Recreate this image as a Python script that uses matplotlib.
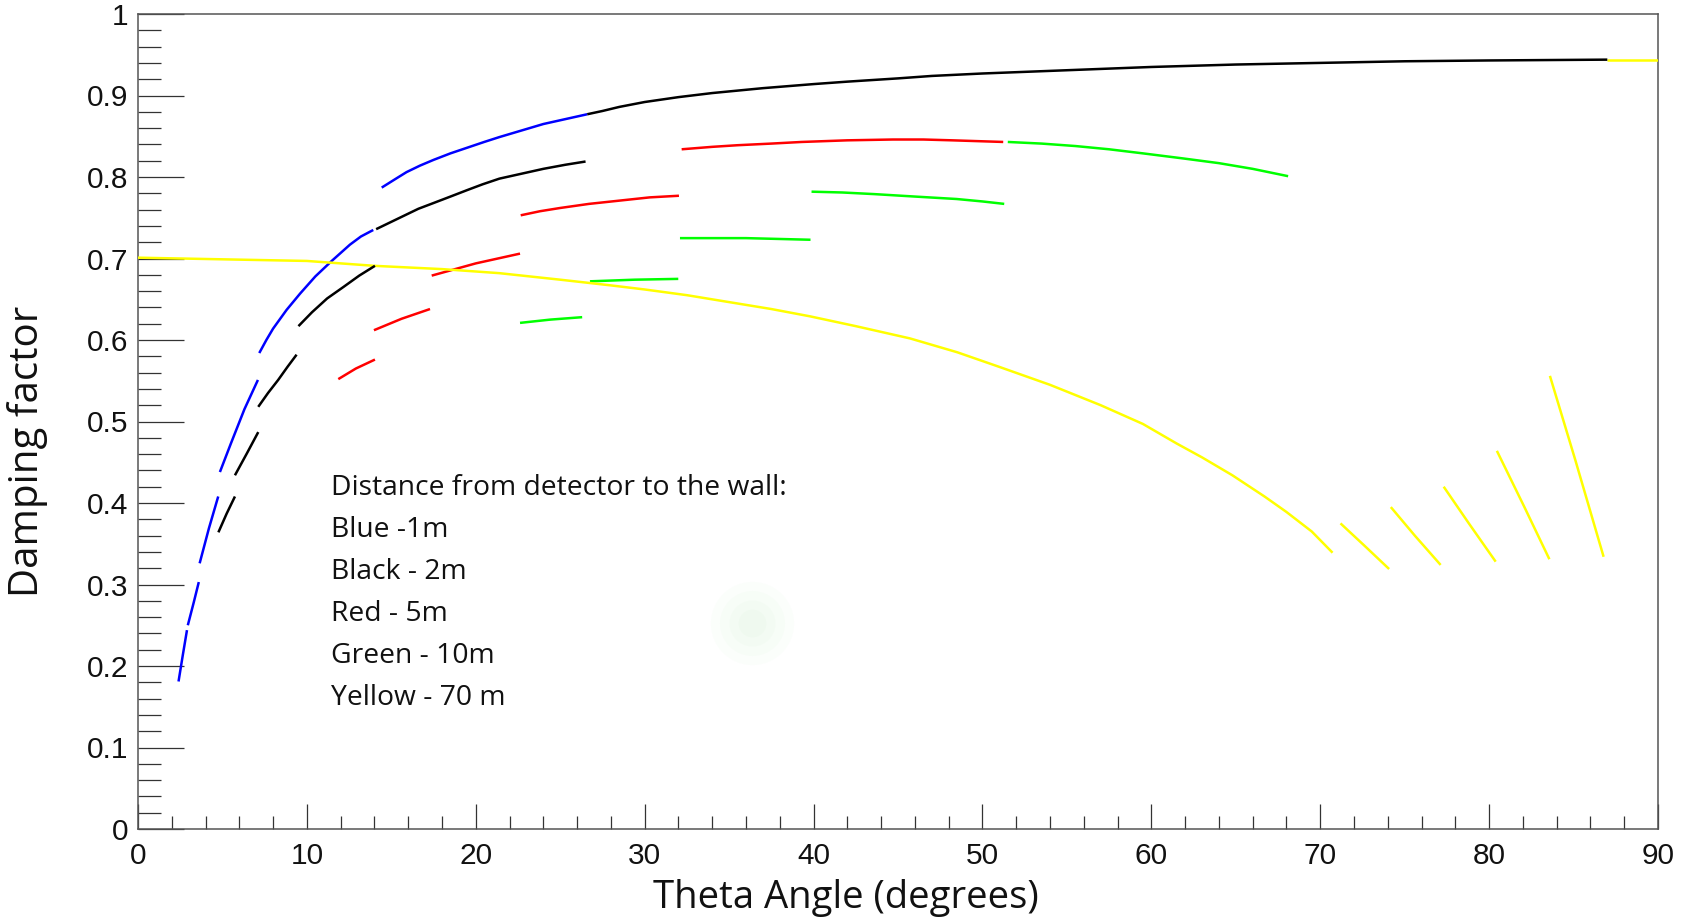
import matplotlib
matplotlib.use("Agg")
import matplotlib.pyplot as plt
from matplotlib.ticker import MultipleLocator

# ---------------- data ----------------
# Each colour: list of segments, x in degrees, y damping factor
blue_x = [
    [2.4, 2.65, 2.9],
    [2.95, 3.3, 3.6],
    [3.65, 4.2, 4.75],
    [4.85, 5.5, 6.3, 7.1],
    [7.18, 7.6, 8.0, 8.8, 9.6, 10.5, 11.47, 12.55, 13.2, 13.93],
    [14.43, 15.2, 15.9, 16.7, 17.5, 18.5, 19.5, 20.5, 21.4, 22.7, 24.0, 25.3, 26.6],
]
blue_y = [
    [0.181, 0.213, 0.244],
    [0.250, 0.278, 0.303],
    [0.326, 0.369, 0.408],
    [0.438, 0.473, 0.515, 0.551],
    [0.584, 0.600, 0.614, 0.637, 0.657, 0.678, 0.697, 0.717, 0.727, 0.735],
    [0.787, 0.797, 0.806, 0.814, 0.821, 0.829, 0.836, 0.843, 0.849, 0.857, 0.865, 0.871, 0.877],
]

black_x = [
    [4.76, 5.25, 5.74],
    [5.74, 6.45, 7.12],
    [7.12, 7.7, 8.3, 8.85, 9.39],
    [9.5, 10.3, 11.2, 12.16, 13.1, 14.03],
    [14.1, 15.0, 15.8, 16.6, 17.49, 18.5, 19.5, 20.4, 21.4, 22.7, 24.0, 25.3, 26.5],
    [26.6, 27.5, 28.5, 30.0, 32.0, 34.0, 37.0, 40.0, 42.0, 45.0, 47.0, 50.0,
     55.0, 60.0, 65.0, 70.0, 75.0, 80.0, 87.0],
]
black_y = [
    [0.364, 0.387, 0.408],
    [0.434, 0.461, 0.487],
    [0.518, 0.535, 0.551, 0.567, 0.582],
    [0.617, 0.634, 0.651, 0.665, 0.679, 0.691],
    [0.736, 0.745, 0.753, 0.761, 0.768, 0.776, 0.784, 0.791, 0.798, 0.804, 0.810, 0.815, 0.819],
    [0.877, 0.881, 0.886, 0.892, 0.898, 0.903, 0.909, 0.914, 0.917, 0.921, 0.924, 0.927,
     0.931, 0.935, 0.938, 0.940, 0.942, 0.943, 0.944],
]

red_x = [
    [11.86, 12.9, 14.03],
    [13.97, 15.6, 17.29],
    [17.39, 20.0, 22.62],
    [22.66, 23.8, 25.0, 26.7, 28.5, 30.3, 32.03],
    [32.19, 34.0, 35.5, 37.5, 39.3, 42.0, 44.7, 46.5, 48.2, 51.23],
]
red_y = [
    [0.552, 0.565, 0.576],
    [0.612, 0.626, 0.638],
    [0.679, 0.694, 0.706],
    [0.753, 0.758, 0.762, 0.767, 0.771, 0.775, 0.777],
    [0.834, 0.837, 0.839, 0.841, 0.843, 0.845, 0.846, 0.846, 0.845, 0.843],
]

green_x = [
    [22.62, 24.4, 26.3],
    [26.76, 29.4, 31.99],
    [32.09, 36.0, 39.82],
    [39.88, 41.7, 43.6, 46.0, 48.47, 50.0, 51.29],
    [51.5, 53.5, 55.5, 57.5, 59.5, 61.8, 64.0, 66.0, 68.1],
]
green_y = [
    [0.621, 0.625, 0.628],
    [0.672, 0.674, 0.675],
    [0.725, 0.725, 0.723],
    [0.782, 0.781, 0.779, 0.776, 0.773, 0.770, 0.767],
    [0.843, 0.841, 0.838, 0.834, 0.829, 0.823, 0.817, 0.810, 0.801],
]

yellow_x = [
    [0.0, 5.0, 10.0, 14.0, 18.0, 21.4, 25.0, 28.0, 30.0, 32.5, 34.85, 37.5, 39.8,
     42.5, 45.7, 48.5, 51.0, 54.0, 57.0, 59.5, 61.5, 63.0, 64.8, 66.7, 68.0, 69.5, 70.73],
    [71.2, 72.6, 74.08],
    [74.18, 75.6, 77.13],
    [77.31, 78.8, 80.39],
    [80.46, 82.09, 83.57],
    [83.6, 85.1, 86.78],
    [87.0, 90.0],
]
yellow_y = [
    [0.701, 0.699, 0.697, 0.691, 0.687, 0.682, 0.674, 0.667, 0.662, 0.655, 0.647, 0.638, 0.629,
     0.617, 0.602, 0.585, 0.567, 0.545, 0.520, 0.497, 0.473, 0.456, 0.434, 0.408, 0.389, 0.365, 0.339],
    [0.375, 0.348, 0.319],
    [0.395, 0.360, 0.324],
    [0.420, 0.375, 0.328],
    [0.464, 0.395, 0.331],
    [0.556, 0.453, 0.334],
    [0.944, 0.944],
]

series = [
    (blue_x, blue_y, "#0000ff"),
    (red_x, red_y, "#ff0000"),
    (green_x, green_y, "#00ff00"),
    (yellow_x, yellow_y, "#ffff00"),
    (black_x, black_y, "#000000"),
]

legend_lines = [
    "Distance from detector to the wall:",
    "Blue -1m",
    "Black - 2m",
    "Red - 5m",
    "Green - 10m",
    "Yellow - 70 m",
]

blob_x = [36.35]
blob_y = [0.253]

x_label = "Theta Angle (degrees)"
y_label = "Damping factor"

# ---------------- figure ----------------
W, H = 1691, 923
fig = plt.figure(figsize=(W / 100, H / 100), dpi=100)
fig.patch.set_facecolor("white")
ax = fig.add_axes([138 / W, 1 - 829 / H, 1520 / W, 815 / H])

ax.set_xlim(0, 90)
ax.set_ylim(0, 1)

# faint green smudge
for s, a in [(3600, 0.03), (2200, 0.035), (1100, 0.04), (400, 0.045)]:
    ax.scatter(blob_x, blob_y, s=s, color="#9be29b", alpha=a, linewidths=0, zorder=1)

for xs, ys, c in series:
    for sx, sy in zip(xs, ys):
        ax.plot(sx, sy, color=c, lw=1.8, solid_capstyle="butt",
                solid_joinstyle="round", zorder=3)

frame_c = "#555555"
for sp in ax.spines.values():
    sp.set_color(frame_c)
    sp.set_linewidth(1.1)

ax.xaxis.set_major_locator(MultipleLocator(10))
ax.xaxis.set_minor_locator(MultipleLocator(2))
ax.yaxis.set_major_locator(MultipleLocator(0.1))
ax.yaxis.set_minor_locator(MultipleLocator(0.02))

ax.tick_params(axis="y", which="major", direction="in", length=33, width=0.9,
               color="#333333", pad=7)
ax.tick_params(axis="y", which="minor", direction="in", length=16.5, width=0.9,
               color="#333333")
ax.tick_params(axis="x", which="major", direction="in", length=18, width=0.9,
               color="#333333", pad=9)
ax.tick_params(axis="x", which="minor", direction="in", length=9.5, width=0.9,
               color="#333333")
ax.tick_params(top=False, right=False, which="both")

ax.set_xticks([0, 10, 20, 30, 40, 50, 60, 70, 80, 90])
ax.set_xticklabels(["0", "10", "20", "30", "40", "50", "60", "70", "80", "90"])
ax.set_yticks([0, 0.1, 0.2, 0.3, 0.4, 0.5, 0.6, 0.7, 0.8, 0.9, 1.0])
ax.set_yticklabels(["0", "0.1", "0.2", "0.3", "0.4", "0.5", "0.6", "0.7", "0.8", "0.9", "1"])
for lab in ax.get_xticklabels() + ax.get_yticklabels():
    lab.set_fontfamily("Liberation Sans")
    lab.set_fontsize(21.5)
    lab.set_color("#111111")

# axis titles placed like the reference
fig.text(846 / W, 1 - 898 / H, x_label, family="Open Sans", fontsize=27.5,
         ha="center", va="center", color="#111111")
fig.text(28 / W, 1 - 451 / H, y_label, family="Open Sans", fontsize=29,
         ha="center", va="center", rotation=90, color="#111111")

# annotation block
for i, line in enumerate(legend_lines):
    fig.text(331 / W, 1 - (495 + 42 * i) / H, line, family="Open Sans",
             fontsize=20.3, ha="left", va="baseline", color="#111111")

fig.savefig("out.png", dpi=100, facecolor="white")
